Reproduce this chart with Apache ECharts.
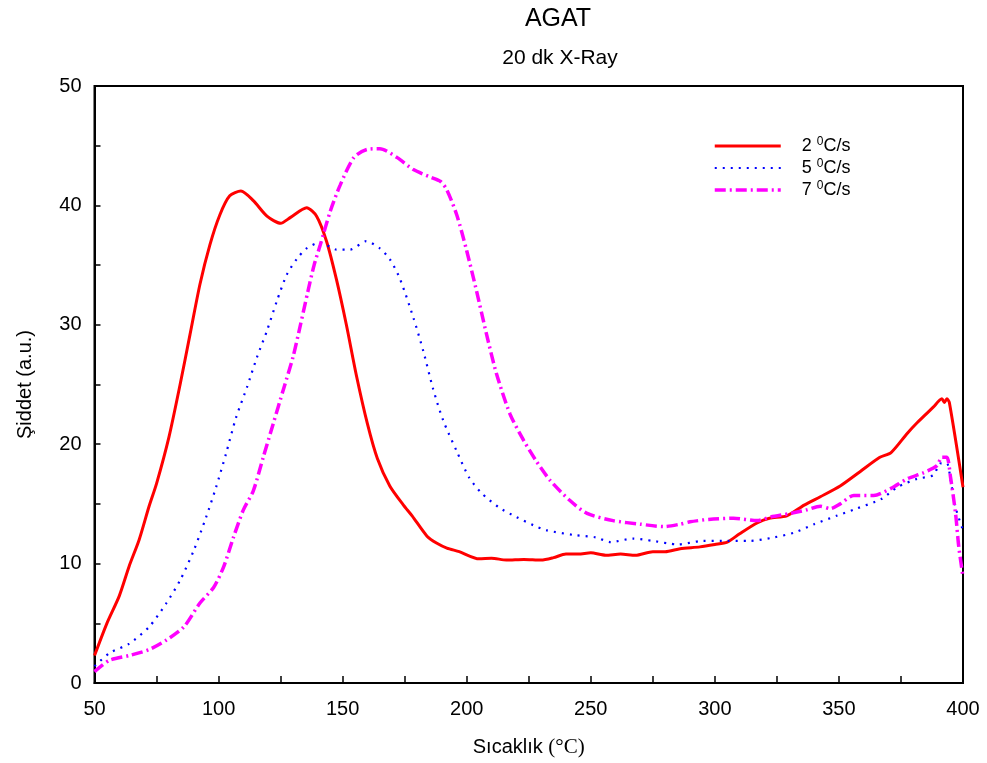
<!DOCTYPE html>
<html>
<head>
<meta charset="utf-8">
<script src="https://cdn.jsdelivr.net/npm/echarts@6/dist/echarts.min.js"></script>
<style>html,body{margin:0;padding:0;background:#fff;}#c{width:987px;height:763px;}</style>
</head>
<body>
<div id="c"></div>
<script>
// ---- data ----
const seriesNames = ['2 0C/s', '5 0C/s', '7 0C/s'];
const t2 = [50,55,60,64,68,72,75,80,84.5,88.5,92.5,96.5,100.5,104.5,109,114,119.5,125,129,135.5,139.5,143.5,147.5,151.5,155.5,160,164,169,174.5,178,184,188,192,197,205,210,216,223,230,235,240,245,250,256,262,268,275,280,286,294,300,305,310,317,322,329,336,342.5,350.5,358.5,366.5,371,377.5,381.5,388,391.5,392.5,393.5,394.5,400];
const v2 = [2.3,5.0,7.3,9.8,12.0,14.8,16.7,20.6,25.0,29.2,33.4,36.7,39.2,40.8,41.2,40.4,39.1,38.5,39.0,39.8,39.1,37.0,33.8,30.0,25.8,21.7,18.8,16.5,14.9,14.0,12.3,11.7,11.3,11.0,10.4,10.45,10.3,10.35,10.3,10.5,10.8,10.8,10.9,10.7,10.8,10.7,11.0,11.0,11.25,11.4,11.6,11.8,12.5,13.4,13.8,14.0,14.9,15.6,16.5,17.7,18.9,19.3,20.9,21.8,23.1,23.8,23.5,23.8,23.5,16.4];
const t5 = [50,56,64,72,79,84.5,90,95,99,103,107,111.5,115.5,119.5,123.5,127.5,131.5,135.5,141,147.5,153,159.5,165,169,173,178.5,182.5,186.5,190.5,196,201,206,213,220,227,232,243,252,258,267,275,281,285,295,305,314,324,332,340,349,357,367,373.5,381.5,388,391,393.5,395,397,400];
const v5 = [1.4,2.5,3.3,4.7,6.7,8.6,11.1,13.9,16.4,19.2,22.2,24.8,27.3,29.5,32.0,34.2,35.5,36.4,36.9,36.3,36.3,37.0,36.4,35.5,33.9,30.6,27.8,24.6,22.0,19.4,17.2,15.9,14.7,13.9,13.2,12.8,12.4,12.2,11.8,12.1,11.9,11.7,11.6,11.9,11.9,11.9,12.2,12.6,13.3,14.0,14.6,15.4,16.4,17.1,17.4,18.4,18.4,17.0,14.7,12.8];
const t7 = [50,56,64,72,79,86,92.5,98,102,106,110,114,118,122,126,130,133,136,138.5,141,145,149,154.5,160,165,172,178.5,185,189.5,192,196,200,204,208,212,217.5,223,228,233.5,241.5,248.5,259,270,279.5,286,290,297.5,307.5,317,322.5,330.5,337,342.5,346.5,350.5,356,364,371,377.5,384,389.5,391.5,393.5,395,397,398.3,400];
const v7 = [0.95,1.9,2.3,2.8,3.6,4.7,6.7,8.0,9.7,12.2,14.5,16.1,18.9,21.7,24.5,27.3,30.0,32.8,35.0,36.7,39.5,41.7,44.0,44.7,44.75,44.0,43.0,42.4,42.0,41.3,39.2,36.2,32.8,29.2,25.9,22.5,20.3,18.6,17.0,15.3,14.2,13.6,13.3,13.1,13.3,13.5,13.7,13.8,13.6,13.9,14.2,14.5,14.8,14.6,15.0,15.7,15.7,16.3,17.1,17.6,18.2,18.9,18.9,17.2,14.2,11.4,8.9];

const pairs = (t, v) => t.map((x, i) => [x, v[i]]);
const FONT = 'Liberation Sans';
const styles = [
  {color: '#ff0000', width: 3, type: 'solid'},
  {color: '#0000ff', width: 2.2, type: [2, 6]},
  {color: '#ff00ff', width: 3.5, type: [11, 4, 2, 4]}
];

const chart = echarts.init(document.getElementById('c'), null, {renderer: 'canvas'});
chart.setOption({
  backgroundColor: '#fff',
  animation: false,
  textStyle: {fontFamily: FONT},
  title: [
    {text: 'AGAT', left: 553, top: 2, textAlign: 'center',
     textStyle: {fontFamily: FONT, fontSize: 25, fontWeight: 'normal', color: '#000'}},
    {text: '20 dk X-Ray', left: 555, top: 43, textAlign: 'center',
     textStyle: {fontFamily: FONT, fontSize: 21, fontWeight: 'normal', color: '#000'}}
  ],
  legend: {
    orient: 'vertical', left: 708, top: 131, itemWidth: 66, itemHeight: 14, itemGap: 3,
    data: seriesNames.map((n, i) => ({name: n, lineStyle: {width: styles[i].width, type: styles[i].type, color: styles[i].color}})),
    itemStyle: {opacity: 0},
    formatter: function (name) {
      const p = name.split(' ');
      return '{a|' + p[0] + ' }{s|0}{a|' + p[1].slice(1) + '}';
    },
    textStyle: {
      padding: [0, 0, 0, 16],
      rich: {
        a: {fontFamily: FONT, fontSize: 18, color: '#000', lineHeight: 20},
        s: {fontFamily: FONT, fontSize: 12, color: '#000', lineHeight: 20, verticalAlign: 'top'}
      }
    }
  },
  grid: {left: 94.5, right: 24, top: 86, bottom: 80, show: true, borderColor: '#000', borderWidth: 2, containLabel: false},
  xAxis: {
    type: 'value', min: 50, max: 400, interval: 50,
    name: 'Sıcaklık {s|(°C)}', nameLocation: 'middle', nameGap: 54,
    nameTextStyle: {fontFamily: FONT, fontSize: 20, color: '#000',
      rich: {s: {fontFamily: 'Liberation Serif', fontSize: 21, color: '#000'}}},
    axisLine: {show: true, lineStyle: {color: '#000', width: 2}},
    axisTick: {show: true, inside: true, length: 7, lineStyle: {color: '#000', width: 1.5}},
    minorTick: {show: true, splitNumber: 2, length: 7, lineStyle: {color: '#000', width: 1.5}},
    axisLabel: {fontFamily: FONT, fontSize: 20, color: '#000', margin: 16},
    splitLine: {show: false}
  },
  yAxis: {
    type: 'value', min: 0, max: 50, interval: 10,
    name: 'Şiddet (a.u.)', nameLocation: 'middle', nameGap: 59,
    nameTextStyle: {fontFamily: FONT, fontSize: 20, color: '#000'},
    axisLine: {show: true, lineStyle: {color: '#000', width: 2}},
    axisTick: {show: true, inside: true, length: 6, lineStyle: {color: '#000', width: 1.5}},
    minorTick: {show: true, splitNumber: 2, length: 6, lineStyle: {color: '#000', width: 1.5}},
    axisLabel: {fontFamily: FONT, fontSize: 20, color: '#000', margin: 13},
    splitLine: {show: false}
  },
  series: [
    {name: seriesNames[0], type: 'line', data: pairs(t2, v2), symbol: 'none', smooth: 0.25,
     lineStyle: styles[0], itemStyle: {color: styles[0].color}},
    {name: seriesNames[1], type: 'line', data: pairs(t5, v5), symbol: 'none', smooth: 0.25,
     lineStyle: styles[1], itemStyle: {color: styles[1].color}},
    {name: seriesNames[2], type: 'line', data: pairs(t7, v7), symbol: 'none', smooth: 0.25,
     lineStyle: styles[2], itemStyle: {color: styles[2].color}}
  ]
});
</script>
</body>
</html>
